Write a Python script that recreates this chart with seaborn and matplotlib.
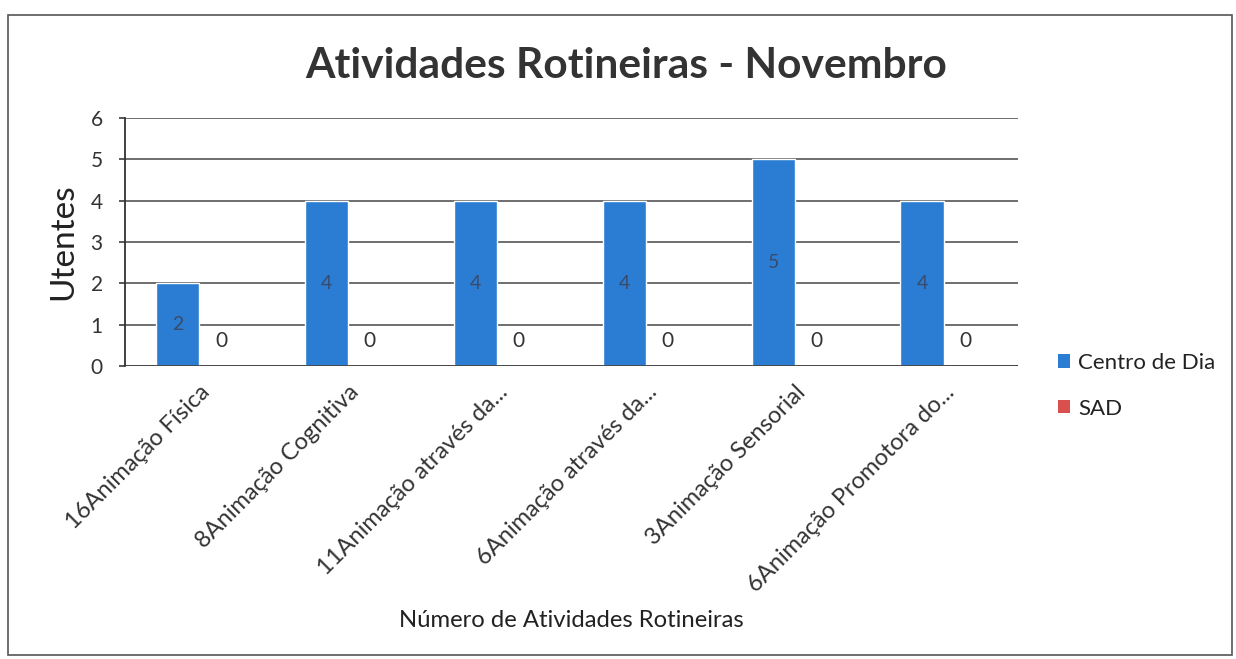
import matplotlib
matplotlib.use("Agg")
import matplotlib.pyplot as plt
from matplotlib.patches import Patch, Rectangle
import pandas as pd
import seaborn as sns

categories = ["16Animação Física", "8Animação Cognitiva", "11Animação através da...",
              "6Animação através da...", "3Animação Sensorial", "6Animação Promotora do..."]
centro_dia = [2, 4, 4, 4, 5, 4]
sad = [0, 0, 0, 0, 0, 0]
series = ["Centro de Dia", "SAD"]
yticks = [0, 1, 2, 3, 4, 5, 6]

COLORS = {"Centro de Dia": "#2a7dd2", "SAD": "#d9504f"}

df = pd.DataFrame({
    "Atividade": categories * 2,
    "Utentes": centro_dia + sad,
    "Serie": [series[0]] * len(categories) + [series[1]] * len(categories),
})

sns.set_theme(style="white")
plt.rcParams["font.family"] = ["Lato", "DejaVu Sans"]

fig = plt.figure(figsize=(12.36, 6.59), dpi=100)
ax = fig.add_axes([125 / 1236, 1 - 366 / 659, 893 / 1236, 248 / 659])

sns.barplot(data=df, x="Atividade", y="Utentes", hue="Serie", order=categories,
            hue_order=series, palette=COLORS, width=0.58, saturation=1,
            ax=ax, legend=False)

ax.set_ylim(0, 6)
ax.set_yticks(yticks)
ax.yaxis.grid(True, color="#555555", linewidth=1.2)
ax.set_axisbelow(True)
for s in ["top", "right", "bottom"]:
    ax.spines[s].set_visible(False)
ax.spines["left"].set_color("#333333")
ax.spines["left"].set_linewidth(1.3)
ax.axhline(0, color="#444444", linewidth=1.3, zorder=3)

ax.tick_params(axis="y", length=4, color="#444444", labelsize=15, labelcolor="#333333",
               left=True, pad=12)
ax.tick_params(axis="x", length=0, labelsize=17, labelcolor="#333333", pad=11)
plt.setp(ax.get_xticklabels(), rotation=45, ha="right", rotation_mode="anchor")

# value labels
ax.bar_label(ax.containers[0], label_type="center", fontsize=14, color="#3a4a6a")
ax.bar_label(ax.containers[1], label_type="edge", padding=11, fontsize=15, color="#333333")

ax.set_ylabel("Utentes", fontsize=24, color="#222222")
ax.yaxis.set_label_coords(-0.052, 0.5)
ax.set_xlabel("Número de Atividades Rotineiras", fontsize=17.2, color="#222222")
ax.xaxis.set_label_coords(0.5, -0.985)

fig.text(0.507, 0.9, "Atividades Rotineiras - Novembro", ha="center", va="center",
         fontsize=30.6, fontweight="bold", color="#333333")

handles = [Patch(facecolor=COLORS[s], edgecolor="none", label=s) for s in series]
fig.legend(handles=handles, loc="upper left", bbox_to_anchor=(1038 / 1236, 1 - 333 / 659),
           frameon=False, fontsize=16, handlelength=0.55, handleheight=0.55,
           handletextpad=0.35, labelspacing=1.15, labelcolor="#222222")

# chart border
fig.add_artist(Rectangle((8 / 1236, 4 / 659), 1224 / 1236, 640 / 659,
                         transform=fig.transFigure, fill=False,
                         edgecolor="#555555", linewidth=1.2))

plt.savefig("out.png", dpi=100)
plt.close()
